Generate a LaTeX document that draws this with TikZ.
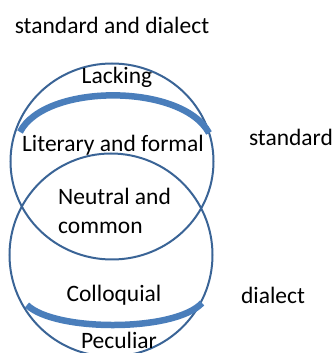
\documentclass[tikz,border=0pt]{standalone}
\usepackage{fontspec}
\setmainfont{Carlito}
\definecolor{ringBlue}{RGB}{58, 100, 150}
\definecolor{bandBlue}{RGB}{74, 126, 187}

\begin{document}
\begin{tikzpicture}[x=1pt, y=1pt,
    ring/.style={ringBlue, line width=2pt},
    band/.style={bandBlue, line width=6.5pt},
    lbl/.style={font=\fontsize{23.5}{29}\selectfont, inner sep=0pt}]
        \useasboundingbox (0,0) rectangle (335,353);
        % the two circles
        \draw[ring] (112,191.5) ellipse (101.5 and 98);
        \draw[ring] (111,98) circle (101.5);
        % thick bands
        \draw[band] (20,221) .. controls (45,270) and (182,270) .. (209,220);
        \draw[band] (27,48) .. controls (55,21) and (175,21) .. (202,50);
        % labels
        \node[lbl] (both) at (112,328) {standard and dialect};
        \node[lbl] (lack) at (117,276) {Lacking};
        \node[lbl] (lit) at (113,208) {Literary and formal};
        \node[lbl] (std) at (291,216) {standard};
        \node[lbl, align=left, anchor=west] (neu) at (58,142) {Neutral and\\common};
        \node[lbl] (coll) at (114,58) {Colloquial};
        \node[lbl] (dia) at (273,58) {dialect};
        \node[lbl] (pec) at (119,13) {Peculiar};
      \end{tikzpicture}
\end{document}
